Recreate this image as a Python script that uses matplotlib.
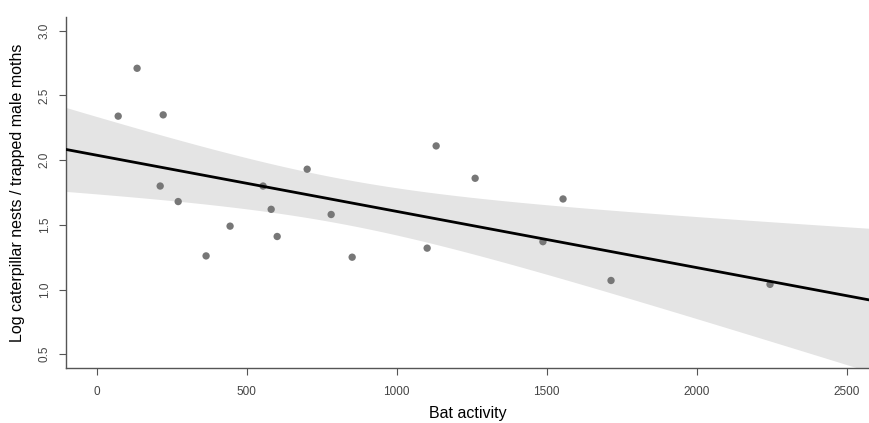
import numpy as np
import matplotlib
matplotlib.use("Agg")
import matplotlib.pyplot as plt

plt.rcParams['font.family'] = ['Liberation Sans', 'DejaVu Sans']

# bat activity vs log caterpillar nests / trapped male moths
bat = [72, 135, 222, 212, 272, 365, 445, 555, 582, 602,
       702, 782, 852, 1102, 1132, 1262, 1488, 1555, 1715, 2245]
nests = [2.34, 2.71, 2.35, 1.80, 1.68, 1.26, 1.49, 1.80, 1.62, 1.41,
         1.93, 1.58, 1.25, 1.32, 2.11, 1.86, 1.37, 1.70, 1.07, 1.04]

xticks = [0, 500, 1000, 1500, 2000, 2500]
yticks = [0.5, 1.0, 1.5, 2.0, 2.5, 3.0]

x = np.array(bat, dtype=float)
y = np.array(nests)

# linear fit + 95% confidence band
b, a = np.polyfit(x, y, 1)
n = len(x)
resid = y - (a + b * x)
s = np.sqrt(np.sum(resid ** 2) / (n - 2))
t = 2.101  # t(0.975, 18)
xs = np.linspace(-110, 2600, 200)
ys = a + b * xs
se = s * np.sqrt(1 / n + (xs - x.mean()) ** 2 / np.sum((x - x.mean()) ** 2))

fig = plt.figure(figsize=(8.69, 4.23), dpi=100)
ax = fig.add_axes([66 / 869, (423 - 367.7) / 423, 1 - 66 / 869, (367.7 - 17.3) / 423])

ax.fill_between(xs, ys - t * se, ys + t * se, color='#e4e4e4', lw=0, zorder=1)
ax.plot(xs, ys, color='black', lw=2, zorder=3)
ax.scatter(x, y, s=28, color='#777777', edgecolors='none', zorder=2)

ax.set_xlim(-102, 2575)
ax.set_ylim(0.396, 3.104)
ax.set_xticks(xticks)
ax.set_yticks(yticks)
ax.set_xticklabels([str(v) for v in xticks])
ax.set_yticklabels(['%.1f' % v for v in yticks], rotation=90, va='center')

for side in ['top', 'right']:
    ax.spines[side].set_visible(False)
for side in ['left', 'bottom']:
    ax.spines[side].set_color('#555555')
    ax.spines[side].set_linewidth(1)
ax.tick_params(direction='out', length=5, width=0.8, color='#555555',
               labelcolor='#444444', labelsize=8.5)
ax.tick_params(axis='x', pad=8)
ax.tick_params(axis='y', pad=6)

ax.set_xlabel('Bat activity', fontsize=11.5, labelpad=6)
ax.set_ylabel('Log caterpillar nests / trapped male moths', fontsize=11.5, labelpad=10)

fig.savefig('out.png', dpi=100)
